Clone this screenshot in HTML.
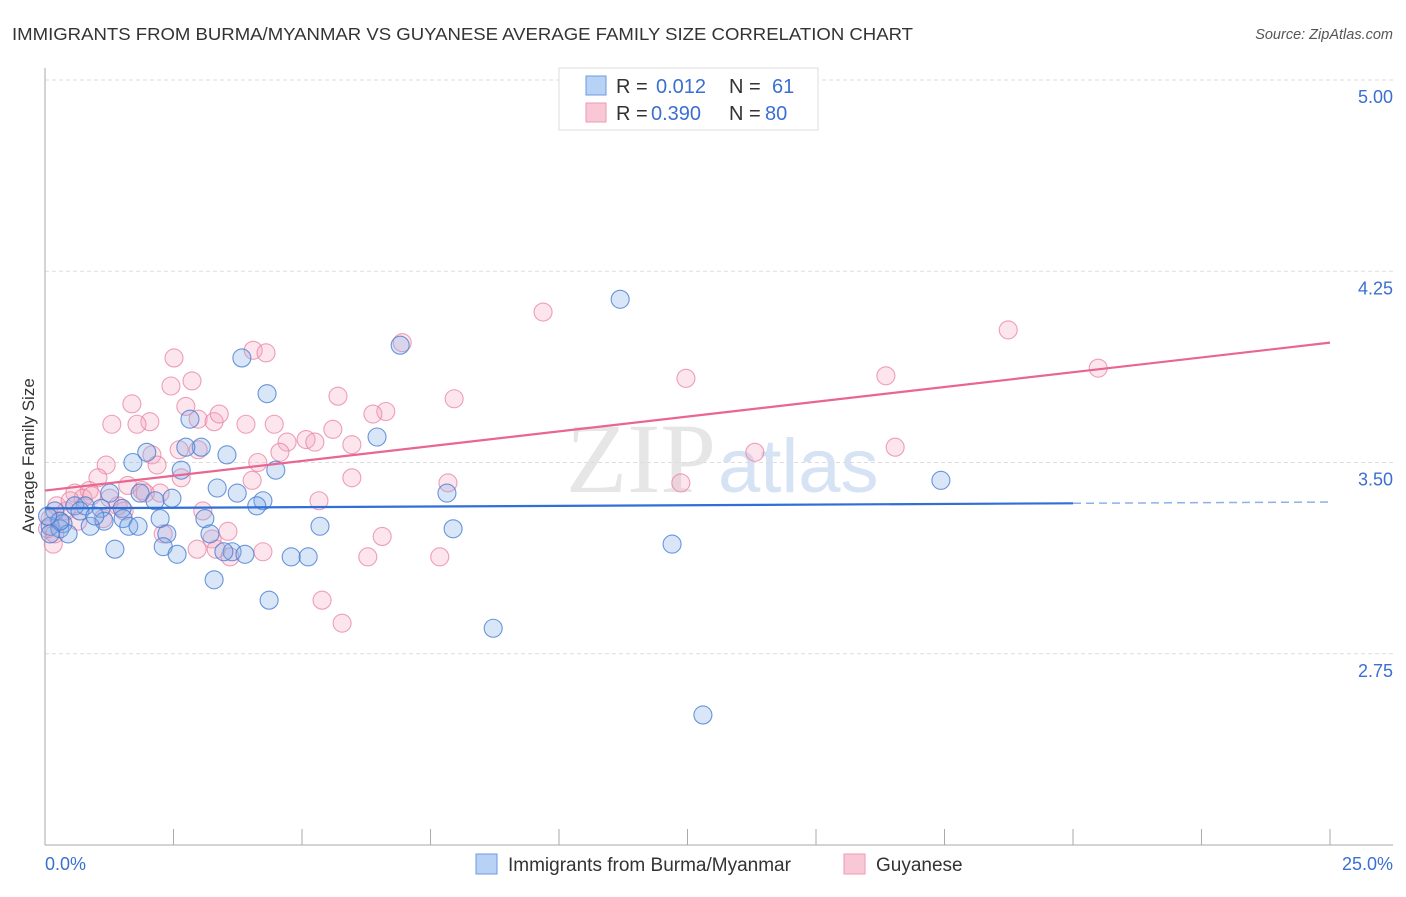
<!DOCTYPE html>
<html><head><meta charset="utf-8"><style>
body{margin:0;background:#fff;font-family:"Liberation Sans",sans-serif}
#c{position:relative;width:1406px;height:892px}
</style></head><body>
<div id="c">
<svg id="s" width="1406" height="892" xmlns="http://www.w3.org/2000/svg">
<text x="12" y="40" font-size="17.5" fill="#333" textLength="901" lengthAdjust="spacingAndGlyphs">IMMIGRANTS FROM BURMA/MYANMAR VS GUYANESE AVERAGE FAMILY SIZE CORRELATION CHART</text>
<text x="1393" y="39" font-size="14.5" fill="#555" font-style="italic" text-anchor="end">Source: ZipAtlas.com</text>
<text x="34" y="456" font-size="17" fill="#333" text-anchor="middle" transform="rotate(-90 34 456)">Average Family Size</text>
<text x="716" y="492" font-size="100" fill="#e6e6e6" font-family="Liberation Serif" text-anchor="end">ZIP</text>
<text x="718" y="492" font-size="76" fill="#d6e3f4" text-anchor="start">atlas</text>
<g id="grid"></g><g id="axes"></g><g id="pts"></g><g id="trend"></g>
<g>
<rect x="559" y="68" width="259" height="62" fill="#fff" stroke="#ddd"/>
<rect x="586" y="76" width="20" height="19" fill="#b8d2f5" stroke="#6b9be0"/>
<rect x="586" y="103" width="20" height="19" fill="#f9c8d6" stroke="#ee9ab2"/>
<text y="93" font-size="20" fill="#333"><tspan x="616">R =</tspan><tspan x="656" fill="#3b6fd1">0.012</tspan><tspan x="729">N =</tspan><tspan x="772" fill="#3b6fd1">61</tspan></text>
<text y="120" font-size="20" fill="#333"><tspan x="616">R =</tspan><tspan x="651" fill="#3b6fd1">0.390</tspan><tspan x="729">N =</tspan><tspan x="765" fill="#3b6fd1">80</tspan></text>
</g>
<g>
<rect x="476" y="854" width="21" height="20" fill="#b8d2f5" stroke="#6b9be0"/>
<text x="508" y="871" font-size="19" fill="#333">Immigrants from Burma/Myanmar</text>
<rect x="844" y="854" width="21" height="20" fill="#f9c8d6" stroke="#ee9ab2"/>
<text x="876" y="871" font-size="19" fill="#333">Guyanese</text>
</g>
</svg>
</div>
<script>
const yTicks=[5.00,4.25,3.50,2.75];
const yTickLabels=["5.00","4.25","3.50","2.75"];
const xTicks=[0,2.5,5,7.5,10,12.5,15,17.5,20,22.5,25];
const xEndLabels=["0.0%","25.0%"];
const burmaX=[11.19,3.83,6.91,4.32,2.82,6.46,1.98,3.04,2.74,1.71,3.54,2.65,4.49,3.35,3.74,4.24,4.12,7.82,17.43,1.26,1.85,2.14,2.47,0.78,0.58,1.09,1.50,0.19,2.24,1.52,3.11,1.15,0.35,0.88,1.63,1.81,5.35,2.37,7.94,3.21,0.10,0.29,0.45,1.36,2.30,3.64,3.48,3.89,4.79,5.12,2.57,12.20,3.29,4.36,8.72,12.80,0.29,0.05,0.68,0.10,0.97];
const burmaY=[4.14,3.91,3.96,3.77,3.67,3.60,3.54,3.56,3.56,3.50,3.53,3.47,3.47,3.40,3.38,3.35,3.33,3.38,3.43,3.38,3.38,3.35,3.36,3.33,3.33,3.32,3.32,3.31,3.28,3.28,3.28,3.27,3.26,3.25,3.25,3.25,3.25,3.22,3.24,3.22,3.25,3.24,3.22,3.16,3.17,3.15,3.15,3.14,3.13,3.13,3.14,3.18,3.04,2.96,2.85,2.51,3.27,3.29,3.31,3.22,3.29];
const guyX=[9.69,18.74,6.95,4.05,4.30,2.51,20.49,2.45,2.86,12.47,16.36,5.70,7.96,1.69,2.74,6.63,6.38,1.30,2.04,1.79,2.98,3.29,3.39,3.91,4.46,5.60,5.08,5.25,4.71,2.61,2.08,5.97,2.98,4.57,16.54,13.81,4.14,1.19,2.18,2.65,1.03,5.97,7.84,12.37,4.03,0.58,0.86,1.61,1.89,2.24,5.33,0.23,0.74,1.42,3.07,1.54,0.41,0.10,0.64,1.13,3.56,3.25,6.56,2.30,4.24,3.33,3.60,6.28,7.68,5.39,5.78,0.16,0.05,0.29,0.91,0.49,0.19,1.26,1.95,2.96];
const guyY=[4.09,4.02,3.97,3.94,3.93,3.91,3.87,3.80,3.82,3.83,3.84,3.76,3.75,3.73,3.72,3.70,3.69,3.65,3.66,3.65,3.67,3.66,3.69,3.65,3.65,3.63,3.59,3.58,3.58,3.55,3.53,3.57,3.55,3.54,3.56,3.54,3.50,3.49,3.49,3.44,3.44,3.44,3.42,3.42,3.43,3.38,3.39,3.41,3.39,3.38,3.35,3.33,3.36,3.33,3.31,3.31,3.31,3.28,3.27,3.28,3.23,3.20,3.21,3.22,3.15,3.16,3.13,3.13,3.13,2.96,2.87,3.18,3.24,3.27,3.37,3.35,3.22,3.36,3.38,3.16];
const burmaTrend=[3.32,3.34];
const guyTrend=[3.39,3.97];
const NS="http://www.w3.org/2000/svg";
const X0=45,X1=1330,Y5=80,PX_PER=255;
function sx(v){return X0+(X1-X0)*v/25;}
function sy(v){return Y5+(5-v)*PX_PER;}
function mk(tag,attrs,parent){const e=document.createElementNS(NS,tag);for(const k in attrs)e.setAttribute(k,attrs[k]);parent.appendChild(e);return e;}
const grid=document.getElementById('grid'),axes=document.getElementById('axes'),pts=document.getElementById('pts'),tr=document.getElementById('trend');
yTicks.forEach((t,i)=>{
 const l=mk('line',{x1:X0,x2:1393,y1:sy(t),y2:sy(t),stroke:'#ddd','stroke-dasharray':'4,3'},grid);
 
 
 const tx=mk('text',{x:1393,y:sy(t)+23,'font-size':18,fill:'#3b6fd1','text-anchor':'end'},axes);
 tx.textContent=yTickLabels[i];
 
 
});
const ya=mk('line',{x1:X0,x2:X0,y1:68,y2:845,stroke:'#aaa'},axes);


const xa=mk('line',{x1:X0,x2:1393,y1:845,y2:845,stroke:'#aaa'},axes);


xTicks.forEach(t=>{
 const l=mk('line',{x1:sx(t),x2:sx(t),y1:829,y2:845,stroke:'#aaa'},axes);
 
 
});
const xl0=mk('text',{x:45,y:870,'font-size':18,fill:'#3b6fd1'},axes);xl0.textContent=xEndLabels[0];


const xl1=mk('text',{x:1393,y:870,'font-size':18,fill:'#3b6fd1','text-anchor':'end'},axes);xl1.textContent=xEndLabels[1];


guyX.forEach((x,i)=>{
 const c=mk('circle',{cx:sx(x),cy:sy(guyY[i]),r:9,fill:'rgba(246,170,195,0.3)',stroke:'rgba(232,130,160,0.75)','stroke-width':1.1},pts);
 
 
});
burmaX.forEach((x,i)=>{
 const c=mk('circle',{cx:sx(x),cy:sy(burmaY[i]),r:9,fill:'rgba(130,172,232,0.3)',stroke:'rgba(70,125,210,0.8)','stroke-width':1.1},pts);
 
 
});
const bAt=x=>burmaTrend[0]+(burmaTrend[1]-burmaTrend[0])*x/20;
const b1=mk('line',{x1:sx(0),y1:sy(bAt(0)),x2:sx(20),y2:sy(bAt(20)),stroke:'#2f6fd6','stroke-width':2.2},tr);


const b2=mk('line',{x1:sx(20),y1:sy(bAt(20)),x2:sx(25),y2:sy(bAt(25)),stroke:'#8fb0e6','stroke-width':1.5,'stroke-dasharray':'8,5'},tr);


const g1=mk('line',{x1:sx(0),y1:sy(guyTrend[0]),x2:sx(25),y2:sy(guyTrend[1]),stroke:'#e8668f','stroke-width':2.2},tr);


</script>
</body></html>
